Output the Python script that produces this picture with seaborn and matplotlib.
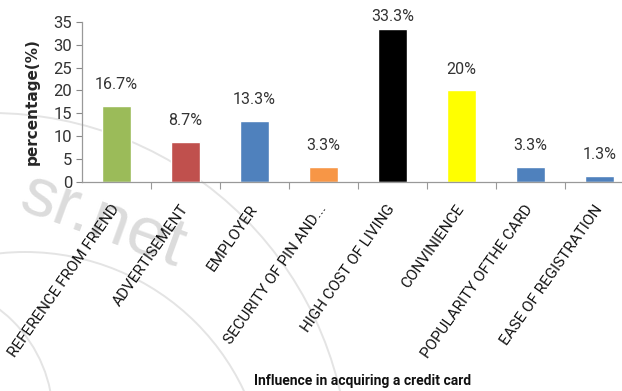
import matplotlib
matplotlib.use("Agg")
import matplotlib.pyplot as plt
import matplotlib.transforms as mtransforms
from matplotlib.patches import Circle
import seaborn as sns
import pandas as pd
from matplotlib.ticker import FixedLocator

categories = [
    "REFERENCE FROM FRIEND",
    "ADVERTISEMENT",
    "EMPLOYER",
    "SECURITY OF PIN AND...",
    "HIGH COST OF LIVING",
    "CONVINIENCE",
    "POPULARITY OFTHE CARD",
    "EASE OF REGISTRATION",
]
values = [16.7, 8.7, 13.3, 3.3, 33.3, 20, 3.3, 1.3]
value_labels = ["16.7%", "8.7%", "13.3%", "3.3%", "33.3%", "20%", "3.3%", "1.3%"]
bar_colors = ["#9BBB59", "#C0504D", "#4F81BD", "#F79646",
              "#000000", "#FFFF00", "#4F81BD", "#4F81BD"]
y_ticks = [0, 5, 10, 15, 20, 25, 30, 35]

sns.set_theme(style="white")
narrow = ["Liberation Sans Narrow", "DejaVu Sans Condensed", "Roboto", "DejaVu Sans"]
plt.rcParams["font.family"] = narrow

df = pd.DataFrame({"category": categories, "value": values})

fig = plt.figure(figsize=(6.22, 3.91), dpi=100)

# faint watermark rings and text on a background layer (pixel coordinates)
bg = fig.add_axes([0, 0, 1, 1], zorder=0)
bg.set_xlim(0, 622)
bg.set_ylim(391, 0)
bg.axis("off")
for (cx, cy), r in [((25, 494), 242), ((-84, 418), 137), ((-9, 471), 358)]:
    bg.add_patch(Circle((cx, cy), r, fill=False, ec="#e4e4e4", lw=1.4))
bg.text(102, 222, "sr.net", fontsize=50, color="#dcdcdc", rotation=-20,
        family=["Liberation Sans", "DejaVu Sans"], va="center", ha="center")

ax = fig.add_axes([82 / 622, 1 - 182 / 391, 552 / 622, (182 - 21.7) / 391], zorder=1)

sns.barplot(data=df, x="category", y="value", hue="category",
            palette=bar_colors, legend=False, width=0.43, ax=ax,
            saturation=1, zorder=2)

for cont, lab, v in zip(ax.containers, value_labels, values):
    pad = 4 if v > 30 else 10
    ax.bar_label(cont, labels=[lab], padding=pad, fontsize=11.5, color="#333333")

ax.set_xlim(-0.5, len(categories) - 0.5)
ax.set_ylim(0, 35)
ax.set_yticks(y_ticks)
ax.tick_params(axis="y", labelsize=12, length=4, width=0.8, color="#888888",
               labelcolor="#333333", left=True, pad=3)

ax.set_xticks(range(len(categories)))
ax.set_xticklabels(categories, rotation=55, ha="right", va="top",
                   rotation_mode="anchor", fontsize=11, color="#111111")
ax.tick_params(axis="x", which="major", length=0, pad=6)
shift = mtransforms.ScaledTranslation(-6 / 100, -12 / 100, fig.dpi_scale_trans)
for lbl in ax.get_xticklabels():
    lbl.set_transform(lbl.get_transform() + shift)
ax.xaxis.set_minor_locator(FixedLocator([i + 0.5 for i in range(len(categories) - 1)]))
ax.tick_params(axis="x", which="minor", length=5, width=0.8, color="#999999",
               bottom=True)

for side in ["top", "right"]:
    ax.spines[side].set_visible(False)
for side in ["left", "bottom"]:
    ax.spines[side].set_color("#999999")
    ax.spines[side].set_linewidth(0.9)

ax.set_xlabel("")
ax.set_ylabel("percentage(%)", fontsize=11, fontweight="bold",
              family="DejaVu Sans", labelpad=10)
ax.patch.set_alpha(0)

fig.text(363 / 622, 1 - 381 / 391, "Influence in acquiring a credit card",
         ha="center", va="center", fontsize=10, fontweight="bold", color="#111111")

fig.savefig("out.png", dpi=100)
